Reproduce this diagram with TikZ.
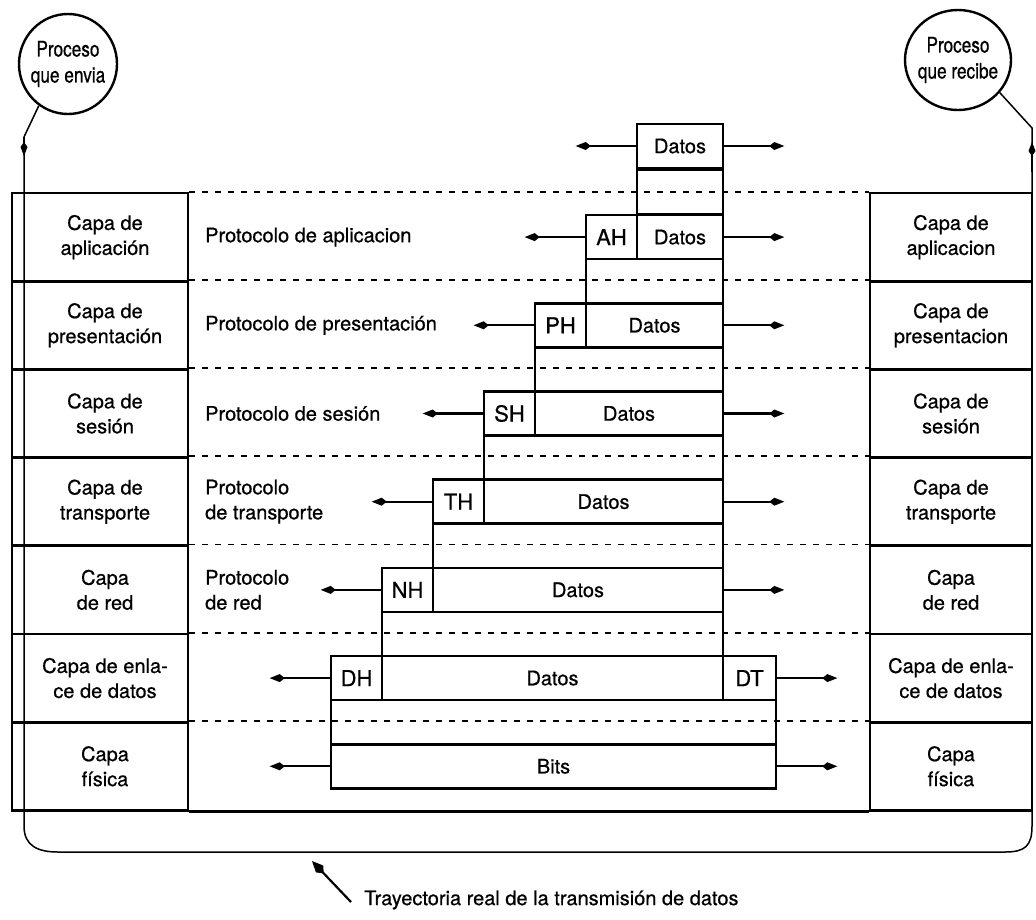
\documentclass[tikz,border=0pt]{standalone}
\usepackage{fontspec}
\setmainfont{TeX Gyre Heros}[FakeBold=0.6]
\newfontfamily\bubfam{TeX Gyre Heros}[FakeBold=0.6, FakeStretch=0.8]
\usetikzlibrary{arrows.meta,shapes.geometric}
\newcommand\txtfont{\fontsize{20}{25}\selectfont}
\newcommand\hdrfont{\fontsize{22}{25}\selectfont}
\newcommand\bubfont{\bubfam\fontsize{21.5}{26}\selectfont}
\begin{document}
\begin{tikzpicture}[x=1pt,y=-1pt,
  layerbox/.style={draw, line width=2.8pt, minimum height=88.2pt, inner sep=0pt},
  laytext/.style={align=center, font=\txtfont, inner sep=0pt},
  pkt/.style={draw, line width=2.6pt, minimum height=44.1pt, inner sep=0pt, font=\txtfont},
  hdr/.style={pkt, minimum width=51pt, font=\hdrfont},
  sepline/.style={line width=1.8pt, dash pattern=on 6pt off 7pt},
  msg/.style={line width=2.2pt, -{Kite[length=15pt,width=8pt,inset=5pt]}},
  route/.style={line width=1.5pt},
  routetip/.style={route, -{Kite[length=14pt,width=7pt,inset=5pt]}},
  proto/.style={anchor=west, align=left, font=\txtfont, inner sep=0pt},
  bubble/.style={draw, ellipse, line width=2.4pt, inner sep=0pt},
  bubtext/.style={align=center, font=\bubfont, inner sep=0pt}
]
\fill[white] (0,0) rectangle (1036,919);
\useasboundingbox (0,0) rectangle (1036,919);

% processes at both ends
\node[bubble, minimum width=98pt, minimum height=100pt] (lproc) at (68,64) {};
\node[bubtext] (lprocT) at (lproc.center) {Proceso\\que envia};
\node[bubble, minimum width=106pt, minimum height=100pt] (rproc) at (958,60) {};
\node[bubtext] (rprocT) at (rproc.center) {Proceso\\que recibe};

% layer stacks of both hosts
\foreach \n/\y/\lt/\rt in {
  app/237.1/{Capa de\\aplicación}/{Capa de\\aplicacion},
  pre/325.3/{Capa de\\presentación}/{Capa de\\presentacion},
  ses/413.5/{Capa de\\sesión}/{Capa de\\sesión},
  tra/501.7/{Capa de\\transporte}/{Capa de\\transporte},
  red/589.9/{Capa\\de red}/{Capa\\de red},
  enl/678.1/{Capa de enla-\\ce de datos}/{Capa de enla-\\ce de datos},
  fis/766.3/{Capa\\física}/{Capa\\física}}{
  \node[layerbox, minimum width=176pt] (l\n) at (100,\y) {};
  \node[laytext] (l\n T) at ([xshift=5pt]l\n.center) {\lt};
  \node[layerbox, minimum width=162pt] (r\n) at (951,\y) {};
  \node[laytext] (r\n T) at (r\n.center) {\rt};
}
\foreach \n in {app,pre,ses,tra,red,enl,fis}
  \draw[sepline] (l\n.north east) -- (r\n.north west);
\draw[line width=2.8pt] (lfis.south east) -- (rfis.south west);

% peer protocols
\node[proto] (papp) at (205,237.1) {Protocolo de aplicacion};
\node[proto] (ppre) at (205,325.3) {Protocolo de presentación};
\node[proto] (pses) at (205,413.5) {Protocolo de sesión};
\node[proto] (ptra) at (205,501.7) {Protocolo\\de transporte};
\node[proto] (pred) at (205,589.9) {Protocolo\\de red};

% encapsulated units
\node[pkt, minimum width=86pt]  (d0) at (680,146) {Datos};
\node[pkt, minimum width=86pt]  (e0) at (680,192) {};
\node[hdr] (h1) at (611.5,237.1) {AH};
\node[pkt, minimum width=86pt]  (d1) at (680,237.1) {Datos};
\node[pkt, minimum width=137pt] (e1) at (654.5,281.2) {};
\node[hdr] (h2) at (560.5,325.3) {PH};
\node[pkt, minimum width=137pt] (d2) at (654.5,325.3) {Datos};
\node[pkt, minimum width=188pt] (e2) at (629,369.4) {};
\node[hdr] (h3) at (509.5,413.5) {SH};
\node[pkt, minimum width=188pt] (d3) at (629,413.5) {Datos};
\node[pkt, minimum width=239pt] (e3) at (603.5,457.6) {};
\node[hdr] (h4) at (458.5,501.7) {TH};
\node[pkt, minimum width=239pt] (d4) at (603.5,501.7) {Datos};
\node[pkt, minimum width=290pt] (e4) at (578,545.8) {};
\node[hdr] (h5) at (407.5,589.9) {NH};
\node[pkt, minimum width=290pt] (d5) at (578,589.9) {Datos};
\node[pkt, minimum width=341pt] (e5) at (552.5,634) {};
\node[hdr] (h6) at (356.5,678.1) {DH};
\node[pkt, minimum width=341pt] (d6) at (552.5,678.1) {Datos};
\node[hdr, minimum width=53pt] (t6) at (749.5,678.1) {DT};
\node[pkt, minimum width=445pt] (e6) at (553.5,722.2) {};
\node[pkt, minimum width=445pt] (b7) at (553.5,766.3) {Bits};

% exchanges between peers
\foreach \a/\b in {d0/d0, h1/d1, h2/d2, h3/d3, h4/d4, h5/d5, h6/t6, b7/b7}{
  \draw[msg] (\a.west) -- ++(-60,0);
  \draw[msg] (\b.east) -- ++(60,0);
}

% actual transmission path
\coordinate (lcorner) at (24,137);
\coordinate (lturn) at (24,826);
\coordinate (rturn) at (1032,826);
\coordinate (rcorner) at (1032,128);
\draw[route] (lproc.235) -- (lcorner) -- (lturn)
  .. controls (24,846) and (38,852) .. (58,852) -- (1005,852)
  .. controls (1025,852) and (1032,846) .. (rturn) -- (rcorner) -- (rproc.-38);
\draw[routetip] (lcorner) -- (24,156);
\draw[routetip] (1032,172) -- (1032,142);

\node[anchor=west, font=\txtfont, inner sep=0pt] (note) at (364,900)
  {Trayectoria real de la transmisión de datos};
\coordinate (hit) at (312,861);
\draw[line width=2.2pt, -{Kite[length=17pt,width=10pt,inset=6pt]}]
  ([xshift=-13pt,yshift=-2pt]note.west) -- (hit);
\end{tikzpicture}
\end{document}
